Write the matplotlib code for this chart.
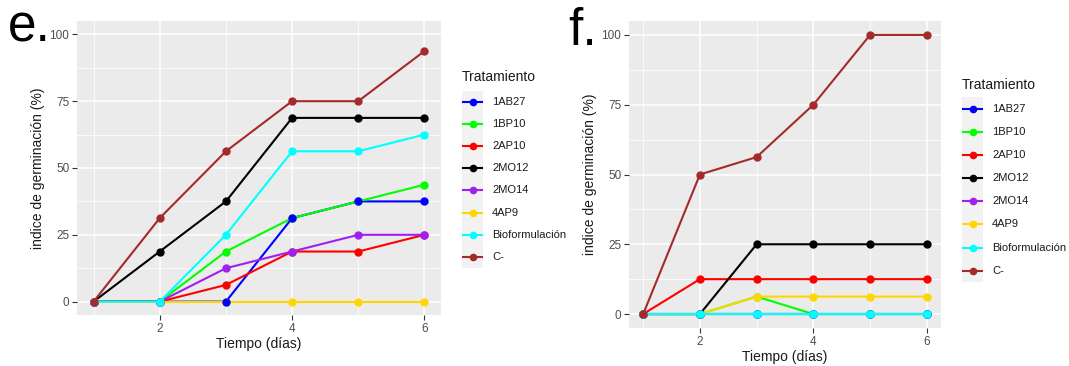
import numpy as np
import matplotlib
matplotlib.use('Agg')
import matplotlib.pyplot as plt
from matplotlib.lines import Line2D
from matplotlib.patches import Rectangle

plt.rcParams['font.family'] = ['Liberation Sans', 'DejaVu Sans']

W, H = 1069, 366

dias = [1, 2, 3, 4, 5, 6]
tratamientos = ['1AB27', '1BP10', '2AP10', '2MO12', '2MO14', '4AP9', 'Bioformulación', 'C-']
colores = ['#0000FF', '#00FF00', '#FF0000', '#000000', '#A020F0', '#FFD700', '#00FFFF', '#A52A2A']

# panel e
e_1AB27 = [0, 0, 0, 31.25, 37.5, 37.5]
e_1BP10 = [0, 0, 18.75, 31.25, 37.5, 43.75]
e_2AP10 = [0, 0, 6.25, 18.75, 18.75, 25]
e_2MO12 = [0, 18.75, 37.5, 68.75, 68.75, 68.75]
e_2MO14 = [0, 0, 12.5, 18.75, 25, 25]
e_4AP9 = [0, 0, 0, 0, 0, 0]
e_bio = [0, 0, 25, 56.25, 56.25, 62.5]
e_cneg = [0, 31.25, 56.25, 75, 75, 93.75]

# panel f
f_1AB27 = [0, 0, 0, 0, 0, 0]
f_1BP10 = [0, 0, 6.25, 0, 0, 0]
f_2AP10 = [0, 12.5, 12.5, 12.5, 12.5, 12.5]
f_2MO12 = [0, 0, 25, 25, 25, 25]
f_2MO14 = [0, 0, 0, 0, 0, 0]
f_4AP9 = [0, 0, 6.25, 6.25, 6.25, 6.25]
f_bio = [0, 0, 0, 0, 0, 0]
f_cneg = [0, 50, 56.25, 75, 100, 100]

serie_e = [e_1AB27, e_1BP10, e_2AP10, e_2MO12, e_2MO14, e_4AP9, e_bio, e_cneg]
serie_f = [f_1AB27, f_1BP10, f_2AP10, f_2MO12, f_2MO14, f_4AP9, f_bio, f_cneg]


def caja(x0, y0, x1, y1):
    # pixel box (top-left origin) -> figure fraction
    return [x0 / W, 1 - y1 / H, (x1 - x0) / W, (y1 - y0) / H]


def panel(ax, series):
    ax.set_facecolor('#EBEBEB')
    for s in ax.spines.values():
        s.set_visible(False)
    ax.set_xlim(0.75, 6.25)
    ax.set_ylim(-5, 105)
    ax.set_xticks([2, 4, 6])
    ax.set_yticks([0, 25, 50, 75, 100])
    ax.set_xticks([1, 3, 5], minor=True)
    ax.set_yticks([12.5, 37.5, 62.5, 87.5], minor=True)
    ax.grid(which='major', color='white', lw=1.1)
    ax.grid(which='minor', color='white', lw=0.55)
    ax.set_axisbelow(True)
    ax.tick_params(which='major', length=3.5, width=0.8, color='#333333',
                   labelcolor='#4D4D4D', labelsize=8.5, pad=2)
    ax.tick_params(which='minor', length=0)
    for i, (y, c) in enumerate(zip(series, colores)):
        ax.plot(dias, y, color=c, lw=1.5, zorder=2 + 2 * i)
        # los puntos de 1AB27 quedan por encima en la figura original
        zp = 14 if i == 0 else 3 + 2 * i
        ax.plot(dias, y, 'o', color=c, ms=5, zorder=zp)
    ax.set_xlabel('Tiempo (días)', fontsize=10, color='#1A1A1A', labelpad=2)
    ax.set_ylabel('indice de germinación (%)', fontsize=10, color='#1A1A1A', labelpad=3)


def leyenda(fig, x0, y_tit, y_row0, paso):
    fig.text(x0 / W, 1 - y_tit / H, 'Tratamiento', fontsize=10, color='#1A1A1A',
             ha='left', va='center')
    top = y_row0 - paso / 2
    bot = y_row0 + paso * (len(tratamientos) - 0.5)
    fig.add_artist(Rectangle((x0 / W, 1 - bot / H), 21 / W, (bot - top) / H,
                             transform=fig.transFigure, facecolor='#F2F2F2',
                             edgecolor='none'))
    for i, (t, c) in enumerate(zip(tratamientos, colores)):
        yy = 1 - (y_row0 + i * paso) / H
        fig.add_artist(Line2D([(x0 + 1) / W, (x0 + 20) / W], [yy, yy], color=c, lw=1.5,
                              transform=fig.transFigure))
        fig.add_artist(Line2D([(x0 + 10.5) / W], [yy], marker='o', ms=4.5, color=c,
                              transform=fig.transFigure))
        fig.text((x0 + 30) / W, yy, t, fontsize=8, color='#1A1A1A', ha='left', va='center')


fig = plt.figure(figsize=(W / 100, H / 100), dpi=100)

ax1 = fig.add_axes(caja(77, 21, 441, 315))
panel(ax1, serie_e)
ax2 = fig.add_axes(caja(629, 21, 941, 328))
panel(ax2, serie_f)

leyenda(fig, 462, 77, 102, 22.1)
leyenda(fig, 962, 85, 109, 23.1)

fig.text(8 / W, 1 - 42 / H, 'e.', fontsize=37, ha='left', va='baseline')
fig.text(568 / W, 1 - 45 / H, 'f.', fontsize=37, ha='left', va='baseline')

fig.savefig('out.png', dpi=100)
